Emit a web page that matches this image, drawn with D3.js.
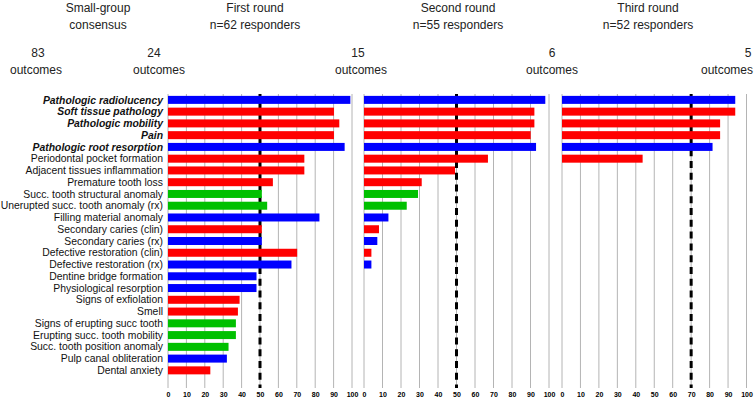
<!DOCTYPE html>
<html><head><meta charset="utf-8">
<script src="https://cdn.jsdelivr.net/npm/d3@7"></script>
<style>body{margin:0;background:#fff}svg{display:block}text{font-family:"Liberation Sans",Arial,sans-serif}</style>
</head><body><svg id="c" width="754" height="401"></svg>
<script>
const categories = ["Pathologic radiolucency","Soft tissue pathology","Pathologic mobility","Pain","Pathologic root resorption","Periodontal pocket formation","Adjacent tissues inflammation","Premature tooth loss","Succ. tooth structural anomaly","Unerupted succ. tooth anomaly (rx)","Filling material anomaly","Secondary caries (clin)","Secondary caries (rx)","Defective restoration (clin)","Defective restoration (rx)","Dentine bridge formation","Physiological resorption","Signs of exfiolation","Smell","Signs of erupting succ tooth","Erupting succ. tooth mobility","Succ. tooth position anomaly","Pulp canal obliteration","Dental anxiety"];
const boldCategories = ["Pathologic radiolucency","Soft tissue pathology","Pathologic mobility","Pain","Pathologic root resorption"];
const categoryGroup = ["rx","clin","clin","clin","rx","clin","clin","clin","succ","succ","rx","clin","rx","clin","rx","rx","rx","clin","clin","succ","succ","succ","rx","clin"];
const round1 = [99.1,90.2,93.1,90.2,96.0,74.1,74.1,57.0,51.0,53.9,82.3,51.0,51.0,70.2,67.1,48.1,48.1,38.9,38.0,36.9,36.9,32.9,32.0,23.0];
const round2 = [98.0,92.1,92.1,90.1,93.0,67.0,49.2,31.2,29.2,23.1,13.2,8.1,7.2,4.0,4.0,0,0,0,0,0,0,0,0,0];
const round3 = [93.9,93.9,85.7,85.7,81.6,43.7,0,0,0,0,0,0,0,0,0,0,0,0,0,0,0,0,0,0];
const thresholds = [50,50,70];
const tickValues = [0,10,20,30,40,50,60,70,80,90,100];
const headerLines = [["Small-group","consensus"],["First round","n=62 responders"],["Second round","n=55 responders"],["Third round","n=52 responders"]];
const outcomeCounts = ["83","24","15","6","5"];

const groupColor = {rx:"#0000ff", clin:"#ff0000", succ:"#00c000"};
const svg = d3.select("#c");

const yTop = 94, yBottom = 388;
const y = d3.scaleBand().domain(categories).range([yTop, yTop + 24*11.76]).paddingInner(0.32).paddingOuter(0.16);
const panels = [[168,352],[364,549],[562,746.5]];
const series = [round1, round2, round3];

const headerX = [98,255,458,648];
headerLines.forEach((ls,i)=>{
  ls.forEach((t,j)=>svg.append("text").attr("x",headerX[i]).attr("y",12+j*16.5).attr("text-anchor","middle").attr("font-size",12).attr("fill","#222").text(t));
});
const countX = [38,154,358,552,748];
const outX = [36,159,361,552,727];
outcomeCounts.forEach((c,i)=>{
  svg.append("text").attr("x",countX[i]).attr("y",57).attr("text-anchor","middle").attr("font-size",12).attr("fill","#222").text(c);
  svg.append("text").attr("x",outX[i]).attr("y",74).attr("text-anchor","middle").attr("font-size",12).attr("fill","#222").text("outcomes");
});

categories.forEach((c)=>{
  const b = boldCategories.includes(c);
  svg.append("text").attr("x",163).attr("y",y(c)+y.bandwidth()/2).attr("dy","0.35em")
    .attr("text-anchor","end").attr("font-size",10.4).attr("fill","#111")
    .attr("font-weight",b?"bold":"normal").attr("font-style",b?"italic":"normal").text(c);
});

panels.forEach((p,pi)=>{
  const x = d3.scaleLinear().domain([0,100]).range(p);
  const g = svg.append("g");
  g.selectAll("line.grid").data(tickValues).join("line")
    .attr("x1",d=>x(d)).attr("x2",d=>x(d)).attr("y1",yTop).attr("y2",yBottom)
    .attr("stroke","#b4b4b4").attr("stroke-width",1);
  const step = y.step();
  g.append("line").attr("x1",x(thresholds[pi])).attr("x2",x(thresholds[pi]))
    .attr("y1",yTop).attr("y2",yBottom).attr("stroke","#000").attr("stroke-width",3)
    .attr("stroke-dasharray",`7,${(step-7).toFixed(2)}`)
    .attr("stroke-dashoffset",3.5);
  const data = categories.map((c,i)=>({c, v:series[pi][i], grp:categoryGroup[i]})).filter(d=>d.v>0);
  g.selectAll("rect").data(data).join("rect")
    .attr("x",x(0)).attr("y",d=>y(d.c)).attr("width",d=>x(d.v)-x(0)).attr("height",y.bandwidth())
    .attr("fill",d=>groupColor[d.grp]);
  const ax = g.append("g").attr("transform",`translate(0,${yBottom+1})`)
    .call(d3.axisBottom(x).tickValues(tickValues).tickSize(0).tickPadding(3));
  ax.select(".domain").remove();
  ax.selectAll("text").attr("font-size",7).attr("font-weight","bold").attr("fill","#000")
    .attr("font-family","Liberation Sans, Arial, sans-serif");
});
</script></body></html>
